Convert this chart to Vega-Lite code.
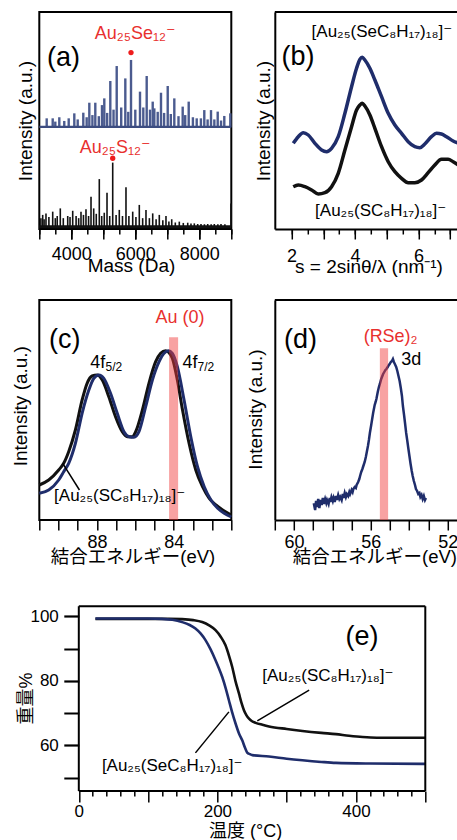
{
  "$schema": "https://vega.github.io/schema/vega-lite/v6.json",
  "background": "white",
  "padding": {"left": 9.3, "top": 11, "right": 0, "bottom": 0},
  "bounds": "flush",
  "align": "each",
  "columns": 2,
  "spacing": {"row": 71, "column": 43.5},
  "datasets": {
    "ms": [
      {"m":3231,"h":51.0,"s":"Se"},{"m":3419,"h":51.0,"s":"Se"},{"m":3500,"h":49.5,"s":"Se"},{"m":3625,"h":51.5,"s":"Se"},{"m":3780,"h":49.8,"s":"Se"},{"m":3919,"h":51.0,"s":"Se"},{"m":4094,"h":53.3,"s":"Se"},{"m":4200,"h":50.5,"s":"Se"},{"m":4375,"h":53.6,"s":"Se"},{"m":4480,"h":51.5,"s":"Se"},{"m":4563,"h":58.2,"s":"Se"},{"m":4660,"h":52.5,"s":"Se"},{"m":4750,"h":58.2,"s":"Se"},{"m":4860,"h":52.0,"s":"Se"},{"m":4959,"h":57.1,"s":"Se"},{"m":5031,"h":60.2,"s":"Se"},{"m":5120,"h":53.5,"s":"Se"},{"m":5219,"h":68.2,"s":"Se"},{"m":5320,"h":55.0,"s":"Se"},{"m":5419,"h":75.1,"s":"Se"},{"m":5560,"h":56.0,"s":"Se"},{"m":5688,"h":69.4,"s":"Se"},{"m":5780,"h":54.0,"s":"Se"},{"m":5866,"h":77.9,"s":"Se"},{"m":6000,"h":55.0,"s":"Se"},{"m":6147,"h":63.3,"s":"Se"},{"m":6250,"h":56.0,"s":"Se"},{"m":6356,"h":70.5,"s":"Se"},{"m":6460,"h":55.0,"s":"Se"},{"m":6544,"h":58.7,"s":"Se"},{"m":6594,"h":55.6,"s":"Se"},{"m":6700,"h":54.0,"s":"Se"},{"m":6803,"h":62.8,"s":"Se"},{"m":6900,"h":53.5,"s":"Se"},{"m":7013,"h":65.9,"s":"Se"},{"m":7110,"h":53.0,"s":"Se"},{"m":7219,"h":60.2,"s":"Se"},{"m":7350,"h":52.0,"s":"Se"},{"m":7481,"h":56.4,"s":"Se"},{"m":7560,"h":52.5,"s":"Se"},{"m":7669,"h":58.7,"s":"Se"},{"m":7800,"h":51.5,"s":"Se"},{"m":7919,"h":51.0,"s":"Se"},{"m":8050,"h":51.0,"s":"Se"},{"m":8156,"h":54.8,"s":"Se"},{"m":8260,"h":50.5,"s":"Se"},{"m":8366,"h":54.8,"s":"Se"},{"m":8470,"h":50.5,"s":"Se"},{"m":8575,"h":54.1,"s":"Se"},{"m":8680,"h":50.0,"s":"Se"},{"m":8781,"h":52.1,"s":"Se"},{"m":8969,"h":53.3,"s":"Se"},
      {"m":3050,"h":5,"s":"S"},{"m":3106,"h":6.5,"s":"S"},{"m":3150,"h":4.5,"s":"S"},{"m":3209,"h":7.2,"s":"S"},{"m":3300,"h":5.5,"s":"S"},{"m":3419,"h":8.0,"s":"S"},{"m":3500,"h":5,"s":"S"},{"m":3560,"h":6,"s":"S"},{"m":3656,"h":9.5,"s":"S"},{"m":3750,"h":5,"s":"S"},{"m":3888,"h":6.0,"s":"S"},{"m":3960,"h":5.5,"s":"S"},{"m":4044,"h":8.4,"s":"S"},{"m":4150,"h":6,"s":"S"},{"m":4230,"h":5,"s":"S"},{"m":4303,"h":8.0,"s":"S"},{"m":4380,"h":6.5,"s":"S"},{"m":4459,"h":9.1,"s":"S"},{"m":4540,"h":6,"s":"S"},{"m":4616,"h":14.9,"s":"S"},{"m":4700,"h":9.5,"s":"S"},{"m":4780,"h":7,"s":"S"},{"m":4875,"h":23.0,"s":"S"},{"m":4950,"h":6,"s":"S"},{"m":5030,"h":7.5,"s":"S"},{"m":5116,"h":16.7,"s":"S"},{"m":5200,"h":6,"s":"S"},{"m":5294,"h":30.6,"s":"S"},{"m":5400,"h":6.5,"s":"S"},{"m":5500,"h":8.8,"s":"S"},{"m":5600,"h":6,"s":"S"},{"m":5709,"h":19.2,"s":"S"},{"m":5800,"h":6,"s":"S"},{"m":5919,"h":8.0,"s":"S"},{"m":6020,"h":5.5,"s":"S"},{"m":6125,"h":11.1,"s":"S"},{"m":6230,"h":5,"s":"S"},{"m":6334,"h":8.8,"s":"S"},{"m":6440,"h":5,"s":"S"},{"m":6544,"h":7.2,"s":"S"},{"m":6650,"h":4.5,"s":"S"},{"m":6750,"h":6.5,"s":"S"},{"m":6860,"h":4,"s":"S"},{"m":6959,"h":6.0,"s":"S"},{"m":7050,"h":3.5,"s":"S"},{"m":7138,"h":4.5,"s":"S"},{"m":7250,"h":3,"s":"S"},{"m":7375,"h":3.4,"s":"S"},{"m":7500,"h":2.8,"s":"S"},{"m":7638,"h":2.9,"s":"S"},{"m":7740,"h":2.5,"s":"S"},{"m":7844,"h":2.6,"s":"S"},{"m":7950,"h":2.3,"s":"S"},{"m":8053,"h":2.3,"s":"S"},{"m":8160,"h":2.2,"s":"S"},{"m":8263,"h":2.3,"s":"S"},{"m":8370,"h":2.2,"s":"S"},{"m":8469,"h":2.3,"s":"S"},{"m":8580,"h":2.2,"s":"S"},{"m":8678,"h":2.3,"s":"S"},{"m":8800,"h":2.2,"s":"S"},{"m":8990,"h":11.8,"s":"S"}
    ],
    "xrd": [
      {"s":2.052,"h":42.3,"c":"S"},{"s":2.210,"h":44,"c":"S"},{"s":2.420,"h":42.3,"c":"S"},{"s":2.630,"h":39,"c":"S"},{"s":2.840,"h":35,"c":"S"},{"s":3.050,"h":36.3,"c":"S"},{"s":3.260,"h":42.3,"c":"S"},{"s":3.470,"h":55.7,"c":"S"},{"s":3.680,"h":79,"c":"S"},{"s":3.890,"h":102.3,"c":"S"},{"s":4.047,"h":119,"c":"S"},{"s":4.152,"h":124,"c":"S"},{"s":4.226,"h":125.7,"c":"S"},{"s":4.310,"h":123,"c":"S"},{"s":4.467,"h":114,"c":"S"},{"s":4.625,"h":100.7,"c":"S"},{"s":4.835,"h":82.3,"c":"S"},{"s":5.045,"h":67.3,"c":"S"},{"s":5.255,"h":57.3,"c":"S"},{"s":5.465,"h":50.7,"c":"S"},{"s":5.675,"h":46.3,"c":"S"},{"s":5.884,"h":46.3,"c":"S"},{"s":6.094,"h":49,"c":"S"},{"s":6.304,"h":56.3,"c":"S"},{"s":6.514,"h":64,"c":"S"},{"s":6.724,"h":69.7,"c":"S"},{"s":6.934,"h":69.7,"c":"S"},{"s":7.092,"h":67.3,"c":"S"},{"s":7.260,"h":64,"c":"S"},
      {"s":2.052,"h":85.7,"c":"Se"},{"s":2.210,"h":92.3,"c":"Se"},{"s":2.367,"h":96.3,"c":"Se"},{"s":2.525,"h":94,"c":"Se"},{"s":2.735,"h":85.7,"c":"Se"},{"s":2.945,"h":79,"c":"Se"},{"s":3.102,"h":77.3,"c":"Se"},{"s":3.260,"h":80.7,"c":"Se"},{"s":3.470,"h":92.3,"c":"Se"},{"s":3.680,"h":115.7,"c":"Se"},{"s":3.890,"h":142.3,"c":"Se"},{"s":4.047,"h":160.7,"c":"Se"},{"s":4.152,"h":169.7,"c":"Se"},{"s":4.226,"h":171.7,"c":"Se"},{"s":4.310,"h":169,"c":"Se"},{"s":4.467,"h":160.7,"c":"Se"},{"s":4.625,"h":149,"c":"Se"},{"s":4.835,"h":132.3,"c":"Se"},{"s":5.045,"h":115.7,"c":"Se"},{"s":5.255,"h":104,"c":"Se"},{"s":5.465,"h":95.7,"c":"Se"},{"s":5.675,"h":87.3,"c":"Se"},{"s":5.884,"h":82.3,"c":"Se"},{"s":6.042,"h":81.3,"c":"Se"},{"s":6.199,"h":85,"c":"Se"},{"s":6.409,"h":92.3,"c":"Se"},{"s":6.567,"h":95.7,"c":"Se"},{"s":6.724,"h":95,"c":"Se"},{"s":6.882,"h":92.3,"c":"Se"},{"s":7.092,"h":88,"c":"Se"},{"s":7.260,"h":85.7,"c":"Se"}
    ],
    "xpsau": [
      {"e":91.0,"u":35,"c":"S"},{"e":90.51,"u":40,"c":"S"},{"e":89.99,"u":50,"c":"S"},{"e":89.73,"u":56.7,"c":"S"},{"e":89.47,"u":68.3,"c":"S"},{"e":89.12,"u":90,"c":"S"},{"e":88.77,"u":120,"c":"S"},{"e":88.51,"u":136.7,"c":"S"},{"e":88.25,"u":144,"c":"S"},{"e":87.99,"u":145,"c":"S"},{"e":87.72,"u":140,"c":"S"},{"e":87.38,"u":123.3,"c":"S"},{"e":87.03,"u":103.3,"c":"S"},{"e":86.68,"u":88.3,"c":"S"},{"e":86.42,"u":83.3,"c":"S"},{"e":86.16,"u":83.3,"c":"S"},{"e":85.98,"u":88.3,"c":"S"},{"e":85.63,"u":110,"c":"S"},{"e":85.29,"u":136.7,"c":"S"},{"e":84.94,"u":158.3,"c":"S"},{"e":84.68,"u":166.7,"c":"S"},{"e":84.42,"u":169.3,"c":"S"},{"e":84.24,"u":167.3,"c":"S"},{"e":84.07,"u":161.7,"c":"S"},{"e":83.81,"u":140,"c":"S"},{"e":83.54,"u":110,"c":"S"},{"e":83.20,"u":76.7,"c":"S"},{"e":82.85,"u":50,"c":"S"},{"e":82.50,"u":33.3,"c":"S"},{"e":82.15,"u":21.7,"c":"S"},{"e":81.80,"u":15,"c":"S"},{"e":81.45,"u":10,"c":"S"},{"e":81.0,"u":5,"c":"S"},
      {"e":91.0,"u":26.7,"c":"Se"},{"e":90.51,"u":30,"c":"Se"},{"e":89.99,"u":40,"c":"Se"},{"e":89.73,"u":48.3,"c":"Se"},{"e":89.47,"u":56.7,"c":"Se"},{"e":89.12,"u":76.7,"c":"Se"},{"e":88.77,"u":106.7,"c":"Se"},{"e":88.42,"u":130,"c":"Se"},{"e":88.16,"u":141.7,"c":"Se"},{"e":87.90,"u":145,"c":"Se"},{"e":87.64,"u":141.7,"c":"Se"},{"e":87.29,"u":126.7,"c":"Se"},{"e":86.94,"u":106.7,"c":"Se"},{"e":86.59,"u":88.3,"c":"Se"},{"e":86.33,"u":83.3,"c":"Se"},{"e":86.07,"u":82.7,"c":"Se"},{"e":85.81,"u":88.3,"c":"Se"},{"e":85.46,"u":113.3,"c":"Se"},{"e":85.11,"u":140,"c":"Se"},{"e":84.76,"u":158.3,"c":"Se"},{"e":84.50,"u":166.7,"c":"Se"},{"e":84.28,"u":169.3,"c":"Se"},{"e":84.07,"u":166.7,"c":"Se"},{"e":83.81,"u":153.3,"c":"Se"},{"e":83.46,"u":120,"c":"Se"},{"e":83.11,"u":83.3,"c":"Se"},{"e":82.76,"u":53.3,"c":"Se"},{"e":82.41,"u":33.3,"c":"Se"},{"e":82.06,"u":20,"c":"Se"},{"e":81.71,"u":11.7,"c":"Se"},{"e":81.37,"u":6.7,"c":"Se"},{"e":81.0,"u":3,"c":"Se"}
    ],
    "xpsse": [
      {"e":58.97,"u":16.7},{"e":58.90,"u":10},{"e":58.85,"u":19},{"e":58.80,"u":13},{"e":58.74,"u":21},{"e":58.68,"u":12},{"e":58.62,"u":20},{"e":58.56,"u":15},{"e":58.50,"u":22},{"e":58.45,"u":16},{"e":58.38,"u":21},{"e":58.32,"u":17},{"e":58.28,"u":20},{"e":58.20,"u":16},{"e":58.14,"u":22},{"e":58.11,"u":18},{"e":58.05,"u":23},{"e":57.98,"u":19},{"e":57.94,"u":22},{"e":57.88,"u":18},{"e":57.82,"u":24},{"e":57.77,"u":20},{"e":57.70,"u":25},{"e":57.64,"u":21},{"e":57.59,"u":23},{"e":57.52,"u":20},{"e":57.46,"u":26},{"e":57.42,"u":22},{"e":57.36,"u":27},{"e":57.30,"u":23},{"e":57.25,"u":26},{"e":57.18,"u":24},{"e":57.12,"u":28},{"e":57.08,"u":26},{"e":57.00,"u":30},{"e":56.95,"u":28},{"e":56.91,"u":31},{"e":56.84,"u":33},{"e":56.78,"u":32},{"e":56.74,"u":35},{"e":56.66,"u":38},{"e":56.60,"u":41},{"e":56.56,"u":44},{"e":56.50,"u":48},{"e":56.44,"u":51},{"e":56.39,"u":54},{"e":56.32,"u":58},{"e":56.26,"u":63},{"e":56.22,"u":67},{"e":56.15,"u":74},{"e":56.10,"u":80},{"e":56.05,"u":87},{"e":55.98,"u":95},{"e":55.93,"u":101},{"e":55.88,"u":107},{"e":55.80,"u":115},{"e":55.75,"u":118},{"e":55.71,"u":121},{"e":55.64,"u":128},{"e":55.58,"u":133},{"e":55.53,"u":136},{"e":55.46,"u":141},{"e":55.40,"u":144},{"e":55.36,"u":146},{"e":55.30,"u":148},{"e":55.24,"u":150},{"e":55.19,"u":151},{"e":55.12,"u":153},{"e":55.06,"u":155},{"e":55.02,"u":156},{"e":54.96,"u":158},{"e":54.90,"u":159},{"e":54.85,"u":161},{"e":54.80,"u":158},{"e":54.75,"u":156},{"e":54.68,"u":153},{"e":54.62,"u":149},{"e":54.56,"u":144},{"e":54.50,"u":139},{"e":54.44,"u":132},{"e":54.38,"u":124},{"e":54.33,"u":114},{"e":54.27,"u":105},{"e":54.22,"u":97},{"e":54.16,"u":87},{"e":54.10,"u":79},{"e":54.05,"u":72},{"e":53.99,"u":64},{"e":53.93,"u":56},{"e":53.87,"u":49},{"e":53.82,"u":44},{"e":53.76,"u":39},{"e":53.70,"u":35},{"e":53.65,"u":31},{"e":53.59,"u":29},{"e":53.53,"u":26},{"e":53.47,"u":27},{"e":53.42,"u":23},{"e":53.36,"u":25},{"e":53.30,"u":21},{"e":53.24,"u":24},{"e":53.18,"u":20},{"e":53.13,"u":22}
    ],
    "tga": [
      {"t":24,"w":99.2,"c":"S"},{"t":60,"w":99.2,"c":"S"},{"t":100,"w":99.2,"c":"S"},{"t":130,"w":99.2,"c":"S"},{"t":149,"w":99.1,"c":"S"},{"t":165,"w":98.8,"c":"S"},{"t":178,"w":98.2,"c":"S"},{"t":188,"w":97.2,"c":"S"},{"t":197.3,"w":95.7,"c":"S"},{"t":205,"w":93.6,"c":"S"},{"t":211.7,"w":91.0,"c":"S"},{"t":217,"w":87.6,"c":"S"},{"t":221.4,"w":84.3,"c":"S"},{"t":226,"w":80.0,"c":"S"},{"t":231.1,"w":76.1,"c":"S"},{"t":235,"w":73.0,"c":"S"},{"t":238.3,"w":70.9,"c":"S"},{"t":242,"w":69.3,"c":"S"},{"t":245.6,"w":68.3,"c":"S"},{"t":250,"w":67.5,"c":"S"},{"t":255.2,"w":67.0,"c":"S"},{"t":265,"w":66.4,"c":"S"},{"t":274.5,"w":65.9,"c":"S"},{"t":300,"w":65.1,"c":"S"},{"t":322.7,"w":64.5,"c":"S"},{"t":350,"w":63.9,"c":"S"},{"t":371,"w":63.5,"c":"S"},{"t":390,"w":63.0,"c":"S"},{"t":409.6,"w":62.6,"c":"S"},{"t":430,"w":62.4,"c":"S"},{"t":460,"w":62.4,"c":"S"},{"t":500,"w":62.4,"c":"S"},
      {"t":24,"w":99.3,"c":"Se"},{"t":60,"w":99.3,"c":"Se"},{"t":100,"w":99.3,"c":"Se"},{"t":120,"w":99.2,"c":"Se"},{"t":135,"w":98.9,"c":"Se"},{"t":149,"w":98.2,"c":"Se"},{"t":160,"w":97.3,"c":"Se"},{"t":168.3,"w":96.2,"c":"Se"},{"t":176,"w":94.6,"c":"Se"},{"t":182.8,"w":92.6,"c":"Se"},{"t":190,"w":89.8,"c":"Se"},{"t":197.3,"w":86.4,"c":"Se"},{"t":202,"w":84.0,"c":"Se"},{"t":207,"w":81.2,"c":"Se"},{"t":212,"w":77.7,"c":"Se"},{"t":216.6,"w":74.0,"c":"Se"},{"t":221,"w":70.5,"c":"Se"},{"t":226.2,"w":66.8,"c":"Se"},{"t":231,"w":63.8,"c":"Se"},{"t":236,"w":61.5,"c":"Se"},{"t":240,"w":59.2,"c":"Se"},{"t":243,"w":57.8,"c":"Se"},{"t":247,"w":57.3,"c":"Se"},{"t":250.4,"w":57.0,"c":"Se"},{"t":274.5,"w":56.6,"c":"Se"},{"t":300,"w":55.9,"c":"Se"},{"t":322.7,"w":55.4,"c":"Se"},{"t":350,"w":54.9,"c":"Se"},{"t":371,"w":54.6,"c":"Se"},{"t":420,"w":54.4,"c":"Se"},{"t":500,"w":54.3,"c":"Se"}
    ]
  },
  "concat": [
    {
      "width": 192, "height": 217,
      "resolve": {"axis": {"x": "independent"}},
      "layer": [
        {"data": {"name": "ms"}, "transform": [{"filter": "datum.s === 'Se'"}],
         "mark": {"type": "rule", "color": "#4b5b8f", "strokeWidth": 2.4},
         "encoding": {
           "x": {"field": "m", "type": "quantitative", "scale": {"domain": [3000, 9000], "nice": false, "zero": false},
                 "axis": {"orient": "bottom", "values": [3000,3500,4000,4500,5000,5500,6000,6500,7000,7500,8000,8500,9000], "tickSize": 5, "labels": false, "domain": false, "title": "Mass (Da)", "titleX": 91.7, "titleY": 27.2, "titleBaseline": "top"}},
           "y": {"field": "h", "type": "quantitative", "scale": {"domain": [0, 100], "nice": false, "zero": false},
                 "axis": {"title": "Intensity (a.u.)", "ticks": false, "labels": false, "domain": false, "titleX": -4.2}},
           "y2": {"datum": 47.1}}},
        {"data": {"name": "ms"}, "transform": [{"filter": "datum.s === 'S'"}],
         "mark": {"type": "rule", "color": "#111111", "strokeWidth": 1.6},
         "encoding": {"x": {"field": "m", "type": "quantitative", "axis": {"orient": "bottom", "values": [3000,4000,5000,6000,7000,8000,9000], "tickSize": 10, "labels": false, "domain": false, "title": null}}, "y": {"field": "h", "type": "quantitative"}, "y2": {"datum": 1}}},
        {"data": {"values": [{"b": 47.1}]}, "mark": {"type": "rule", "color": "#3c4c80", "strokeWidth": 2.2}, "encoding": {"y": {"field": "b", "type": "quantitative"}}},
        {"data": {"values": [{"b": 1}]}, "mark": {"type": "rule", "color": "#111111", "strokeWidth": 3}, "encoding": {"y": {"field": "b", "type": "quantitative"}}},
        {"data": {"values": [{"m": 5866, "h": 81.3}, {"m": 5294, "h": 32.6}]},
         "mark": {"type": "point", "filled": true, "color": "#ee1c1c", "size": 28, "opacity": 1},
         "encoding": {"x": {"field": "m", "type": "quantitative", "axis": {"orient": "bottom", "values": [4000, 6000, 8000], "format": "d", "tickSize": 10, "labelPadding": 6.4, "labelFlush": false, "domain": false, "title": null}}, "y": {"field": "h", "type": "quantitative"}}},
        {"data": {"values": [{"m": 5997, "h": 87.6, "t": "Au₂₅Se₁₂⁻"}, {"m": 5372, "h": 34.8, "t": "Au₂₅S₁₂⁻"}]},
         "mark": {"type": "text", "color": "#e8302e", "fontSize": 18, "align": "center", "baseline": "alphabetic", "font": "Liberation Sans, DejaVu Sans"},
         "encoding": {"x": {"field": "m", "type": "quantitative", "axis": null}, "y": {"field": "h", "type": "quantitative"}, "text": {"field": "t"}}},
        {"data": {"values": [{"m": 3240, "h": 74.9, "t": "(a)"}]},
         "mark": {"type": "text", "color": "black", "fontSize": 27, "align": "left", "baseline": "alphabetic", "font": "Liberation Sans"},
         "encoding": {"x": {"field": "m", "type": "quantitative", "axis": null}, "y": {"field": "h", "type": "quantitative"}, "text": {"field": "t"}}}
      ]
    },
    {
      "width": 184, "height": 217, "view": {"stroke": null},
      "resolve": {"axis": {"x": "independent"}},
      "layer": [
        {"data": {"name": "xrd"},
         "mark": {"type": "line", "strokeWidth": 3.5, "interpolate": "monotone"},
         "encoding": {
           "x": {"field": "s", "type": "quantitative", "scale": {"domain": [1.47, 7.27], "nice": false, "zero": false},
                 "axis": {"orient": "bottom", "values": [2,2.5,3,3.5,4,4.5,5,5.5,6,6.5,7], "tickSize": 5, "labels": false, "domain": true, "title": "s = 2sinθ/λ (nm⁻¹)", "titleX": 93.7, "titleY": 28.2, "titleBaseline": "top"}},
           "y": {"field": "h", "type": "quantitative", "scale": {"domain": [0, 217], "nice": false, "zero": false},
                 "axis": {"title": "Intensity (a.u.)", "ticks": false, "labels": false, "domain": true, "titleX": -1.3}},
           "color": {"field": "c", "type": "nominal", "scale": {"domain": ["Se", "S"], "range": ["#1f2d6b", "#111111"]}, "legend": null}}},
        {"data": {"values": [{"b": 217}]}, "mark": {"type": "rule", "color": "black", "strokeWidth": 2}, "encoding": {"y": {"field": "b", "type": "quantitative"}}},
        {"data": {"values": [{"s": 2.63, "h": 191.6, "t": "[Au₂₅(SeC₈H₁₇)₁₈]⁻"}, {"s": 2.74, "h": 13.3, "t": "[Au₂₅(SC₈H₁₇)₁₈]⁻"}]},
         "mark": {"type": "text", "color": "black", "fontSize": 17, "align": "left", "baseline": "alphabetic", "font": "Liberation Sans, DejaVu Sans", "clip": true},
         "encoding": {"x": {"field": "s", "type": "quantitative", "axis": {"orient": "bottom", "values": [3, 5, 7], "tickSize": 10, "labels": false, "domain": false, "title": null}}, "y": {"field": "h", "type": "quantitative"}, "text": {"field": "t"}}},
        {"data": {"values": [{"s": 1.685, "h": 164.3, "t": "(b)"}]},
         "mark": {"type": "text", "color": "black", "fontSize": 27, "align": "left", "baseline": "alphabetic", "font": "Liberation Sans"},
         "encoding": {"x": {"field": "s", "type": "quantitative", "axis": {"orient": "bottom", "values": [2, 4, 6], "tickSize": 10, "labelPadding": 8, "labelFlush": false, "domain": false, "title": null}}, "y": {"field": "h", "type": "quantitative"}, "text": {"field": "t"}}}
      ]
    },
    {
      "width": 192, "height": 220,
      "resolve": {"axis": {"x": "independent"}},
      "layer": [
        {"data": {"name": "xpsau"},
         "mark": {"type": "line", "strokeWidth": 3, "interpolate": "monotone"},
         "encoding": {
           "x": {"field": "e", "type": "quantitative", "scale": {"domain": [81, 91], "reverse": true, "nice": false, "zero": false},
                 "axis": {"orient": "bottom", "values": [81,82,83,85,86,87,89,90,91], "tickSize": 10, "labels": false, "domain": false, "title": "結合エネルギー(eV)", "titleFontSize": 18.5, "titleX": 93.2, "titleY": 27.2, "titleBaseline": "top"}},
           "y": {"field": "u", "type": "quantitative", "scale": {"domain": [0, 220], "nice": false, "zero": false},
                 "axis": {"title": "Intensity (a.u.)", "ticks": false, "labels": false, "domain": false, "titleX": -9.2, "titleY": 105.7}},
           "color": {"field": "c", "type": "nominal", "scale": {"domain": ["S", "Se"], "range": ["#111111", "#1f2d6b"]}, "legend": null}}},
        {"data": {"values": [{"a": 84.24, "b": 83.77, "lo": 0, "top": 182.7}]},
         "mark": {"type": "rect", "color": "#f03c3c", "opacity": 0.48},
         "encoding": {"x": {"field": "a", "type": "quantitative", "axis": {"orient": "bottom", "values": [84, 88], "tickSize": 10, "labelPadding": 3.7, "labelFlush": false, "domain": false, "title": null}}, "x2": {"field": "b"}, "y": {"field": "lo", "type": "quantitative"}, "y2": {"field": "top"}}},
        {"data": {"values": [{"e1": 89.78, "u1": 56.7, "e2": 88.91, "u2": 30}]},
         "mark": {"type": "rule", "color": "black", "strokeWidth": 1.5},
         "encoding": {"x": {"field": "e1", "type": "quantitative", "axis": null}, "y": {"field": "u1", "type": "quantitative"}, "x2": {"field": "e2"}, "y2": {"field": "u2"}}},
        {"data": {"values": [{"e": 83.67, "u": 196.9, "t": "Au (0)"}]},
         "mark": {"type": "text", "color": "#e8302e", "fontSize": 18, "align": "center", "baseline": "alphabetic", "font": "Liberation Sans"},
         "encoding": {"x": {"field": "e", "type": "quantitative", "axis": null}, "y": {"field": "u", "type": "quantitative"}, "text": {"field": "t"}}},
        {"data": {"values": [{"e": 88.34, "u": 152.1, "t": "4f"}, {"e": 83.54, "u": 152.1, "t": "4f"}]},
         "mark": {"type": "text", "color": "black", "fontSize": 18, "align": "left", "baseline": "alphabetic", "font": "Liberation Sans"},
         "encoding": {"x": {"field": "e", "type": "quantitative", "axis": null}, "y": {"field": "u", "type": "quantitative"}, "text": {"field": "t"}}},
        {"data": {"values": [{"e": 87.55, "u": 149.5, "t": "5/2"}, {"e": 82.76, "u": 149.5, "t": "7/2"}]},
         "mark": {"type": "text", "color": "black", "fontSize": 12, "align": "left", "baseline": "alphabetic", "font": "Liberation Sans"},
         "encoding": {"x": {"field": "e", "type": "quantitative", "axis": null}, "y": {"field": "u", "type": "quantitative"}, "text": {"field": "t"}}},
        {"data": {"values": [{"e": 90.23, "u": 19.3, "t": "[Au₂₅(SC₈H₁₇)₁₈]⁻"}]},
         "mark": {"type": "text", "color": "black", "fontSize": 17, "align": "left", "baseline": "alphabetic", "font": "Liberation Sans, DejaVu Sans"},
         "encoding": {"x": {"field": "e", "type": "quantitative", "axis": null}, "y": {"field": "u", "type": "quantitative"}, "text": {"field": "t"}}},
        {"data": {"values": [{"e": 90.49, "u": 172, "t": "(c)"}]},
         "mark": {"type": "text", "color": "black", "fontSize": 27, "align": "left", "baseline": "alphabetic", "font": "Liberation Sans"},
         "encoding": {"x": {"field": "e", "type": "quantitative", "axis": null}, "y": {"field": "u", "type": "quantitative"}, "text": {"field": "t"}}}
      ]
    },
    {
      "width": 184, "height": 220, "view": {"stroke": null},
      "resolve": {"axis": {"x": "independent"}},
      "layer": [
        {"data": {"name": "xpsse"},
         "mark": {"type": "line", "strokeWidth": 2.5, "color": "#1f2d6b"},
         "encoding": {
           "x": {"field": "e", "type": "quantitative", "scale": {"domain": [51.42, 61], "reverse": true, "nice": false, "zero": false},
                 "axis": {"orient": "bottom", "values": [53,54,55,57,58,59,61], "tickSize": 10, "labels": false, "domain": true, "title": "結合エネルギー(eV)", "titleFontSize": 18.5, "titleX": 99.5, "titleY": 27.2, "titleBaseline": "top"}},
           "y": {"field": "u", "type": "quantitative", "scale": {"domain": [0, 220], "nice": false, "zero": false},
                 "axis": {"title": "Intensity (a.u.)", "ticks": false, "labels": false, "domain": true, "titleX": -9.7, "titleY": 109}}}},
        {"data": {"values": [{"b": 220}]}, "mark": {"type": "rule", "color": "black", "strokeWidth": 2}, "encoding": {"y": {"field": "b", "type": "quantitative"}}},
        {"data": {"values": [{"a": 55.53, "b": 55.10, "lo": 0, "top": 171.7}]},
         "mark": {"type": "rect", "color": "#f03c3c", "opacity": 0.48},
         "encoding": {"x": {"field": "a", "type": "quantitative", "axis": {"orient": "bottom", "values": [52, 56, 60], "tickSize": 10, "labelPadding": 3.7, "labelFlush": false, "domain": false, "title": null}}, "x2": {"field": "b"}, "y": {"field": "lo", "type": "quantitative"}, "y2": {"field": "top"}}},
        {"data": {"values": [{"e": 54.97, "u": 178.5, "t": "(RSe)₂"}]},
         "mark": {"type": "text", "color": "#e8302e", "fontSize": 18, "align": "center", "baseline": "alphabetic", "font": "Liberation Sans, DejaVu Sans"},
         "encoding": {"x": {"field": "e", "type": "quantitative", "axis": null}, "y": {"field": "u", "type": "quantitative"}, "text": {"field": "t"}}},
        {"data": {"values": [{"e": 54.42, "u": 155.4, "t": "3d"}]},
         "mark": {"type": "text", "color": "black", "fontSize": 18, "align": "left", "baseline": "alphabetic", "font": "Liberation Sans"},
         "encoding": {"x": {"field": "e", "type": "quantitative", "axis": null}, "y": {"field": "u", "type": "quantitative"}, "text": {"field": "t"}}},
        {"data": {"values": [{"e": 60.52, "u": 172, "t": "(d)"}]},
         "mark": {"type": "text", "color": "black", "fontSize": 27, "align": "left", "baseline": "alphabetic", "font": "Liberation Sans"},
         "encoding": {"x": {"field": "e", "type": "quantitative", "axis": null}, "y": {"field": "u", "type": "quantitative"}, "text": {"field": "t"}}}
      ]
    },
    {
      "width": 192, "height": 200, "view": {"stroke": null},
      "resolve": {"axis": {"x": "independent", "y": "independent"}},
      "layer": [
        {"data": {"name": "tga"},
         "mark": {"type": "line", "strokeWidth": 2.6, "interpolate": "monotone"},
         "encoding": {
           "x": {"field": "t", "type": "quantitative", "scale": {"domain": [-57, 500], "range": [0, 386], "nice": false, "zero": false},
                 "axis": {"orient": "bottom", "values": [20,40,60,80,120,140,160,180,220,240,260,280,320,340,360,380,420,440,460,480], "tickSize": 5, "labels": false, "domain": false, "title": "温度 (°C)", "titleFontSize": 18, "titleX": 205.8, "titleY": 31.3, "titleBaseline": "top"}},
           "y": {"field": "w", "type": "quantitative", "scale": {"domain": [45.9, 107.82], "nice": false, "zero": false},
                 "axis": {"orient": "left", "values": [50, 70, 90], "tickSize": 15, "tickWidth": 2, "offset": -39.5, "labels": false, "domain": false, "title": "重量%", "titleFontSize": 18, "titleX": -43.7, "titleY": 107}},
           "color": {"field": "c", "type": "nominal", "scale": {"domain": ["S", "Se"], "range": ["#111111", "#1f2d6b"]}, "legend": null}}},
        {"data": {"values": [{"x1": 0, "y1": 45.9, "x2": 0, "y2": 103.1}, {"x1": 500, "y1": 45.9, "x2": 500, "y2": 103.1}, {"x1": 0, "y1": 103.1, "x2": 500, "y2": 103.1}, {"x1": 0, "y1": 45.9, "x2": 500, "y2": 45.9}]},
         "mark": {"type": "rule", "color": "black", "strokeWidth": 2},
         "encoding": {"x": {"field": "x1", "type": "quantitative", "axis": {"orient": "bottom", "values": [100, 300, 500], "tickSize": 11, "labels": false, "domain": false, "title": null}},
                      "y": {"field": "y1", "type": "quantitative", "axis": {"orient": "left", "values": [60, 80, 100], "tickSize": 15, "tickWidth": 2.2, "offset": -39.5, "labelPadding": 5.5, "labelFontSize": 17, "labelFlush": false, "domain": false, "title": null}},
                      "x2": {"field": "x2"}, "y2": {"field": "y2"}}},
        {"data": {"values": [{"t1": 332.4, "w1": 77.1, "t2": 257.6, "w2": 67.6}, {"t1": 168.3, "w1": 57.7, "t2": 216.6, "w2": 70.4}]},
         "mark": {"type": "rule", "color": "black", "strokeWidth": 1.5},
         "encoding": {"x": {"field": "t1", "type": "quantitative", "axis": {"orient": "bottom", "values": [0, 200, 400], "tickSize": 11, "labelPadding": 1.7, "labelFontSize": 17, "labelFlush": false, "domain": false, "title": null}}, "y": {"field": "w1", "type": "quantitative", "axis": null}, "x2": {"field": "t2"}, "y2": {"field": "w2"}}},
        {"data": {"values": [{"t": 264.8, "w": 80.0, "s": "[Au₂₅(SC₈H₁₇)₁₈]⁻"}, {"t": 33.3, "w": 52.1, "s": "[Au₂₅(SeC₈H₁₇)₁₈]⁻"}]},
         "mark": {"type": "text", "color": "black", "fontSize": 17, "align": "left", "baseline": "alphabetic", "font": "Liberation Sans, DejaVu Sans"},
         "encoding": {"x": {"field": "t", "type": "quantitative", "axis": null}, "y": {"field": "w", "type": "quantitative", "axis": null}, "text": {"field": "s"}}},
        {"data": {"values": [{"t": 385, "w": 91.1, "s": "(e)"}]},
         "mark": {"type": "text", "color": "black", "fontSize": 27, "align": "left", "baseline": "alphabetic", "font": "Liberation Sans"},
         "encoding": {"x": {"field": "t", "type": "quantitative", "axis": null}, "y": {"field": "w", "type": "quantitative", "axis": null}, "text": {"field": "s"}}}
      ]
    }
  ],
  "config": {
    "font": "Liberation Sans",
    "view": {"stroke": "black", "strokeWidth": 2},
    "axis": {"labelFont": "Liberation Sans", "labelFontSize": 18, "labelColor": "black", "labelOverlap": false, "titleFont": "Liberation Sans, Noto Sans CJK JP", "titleFontSize": 19, "titleFontWeight": "normal", "titleColor": "black", "tickColor": "black", "tickWidth": 1.5, "tickSize": 5, "domainColor": "black", "domainWidth": 2, "grid": false}
  }
}
